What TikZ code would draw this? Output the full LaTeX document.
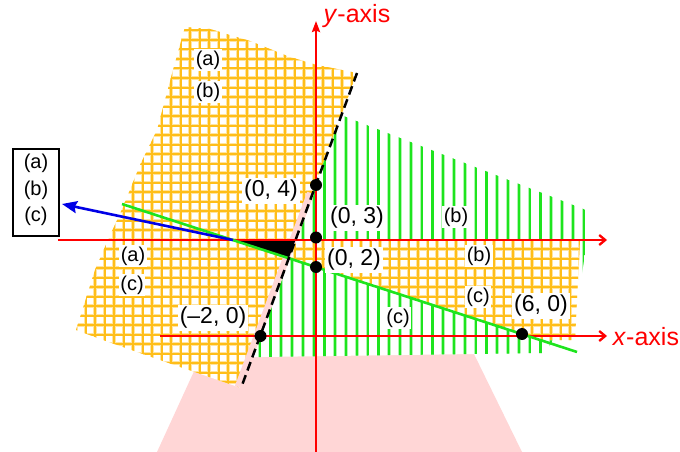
\documentclass[tikz,border=0pt]{standalone}
\usepackage{fontspec}
\setmainfont{Liberation Sans}
\usetikzlibrary{arrows.meta}
\definecolor{orgC}{RGB}{255,190,25}
\definecolor{orgL}{RGB}{255,228,160}
\definecolor{grnC}{RGB}{30,228,30}
\definecolor{grnL}{RGB}{175,246,175}
\definecolor{redC}{RGB}{255,0,0}
\definecolor{bluC}{RGB}{0,0,230}
\definecolor{pnkC}{RGB}{255,214,214}
\def\orgLeftPath{(185,27) -- (210,29) -- (250,41) -- (290,57) -- (317,65) -- (357,73) -- (241,388) -- (160,360) -- (103,340) -- (76,330) -- (95,270) -- (108,240) -- (123,207) -- (140,165) -- (157,130) -- (165,100) -- (173,70) -- cycle}
\def\orgRightPath{(295.5,240) -- (580,240) -- (575,340) -- (540,340) -- (288.8,258.2) -- cycle}
\def\grnPath{(341,115) -- (586,210) -- (587,240) -- (578,300) -- (545,353) -- (262,357) -- (252.5,357) -- cycle}
\begin{document}
\begin{tikzpicture}[x=1pt,y=-1pt,
  lbl/.style={fill=white,inner sep=1.5pt,font=\fontsize{20}{20}\selectfont},
  big/.style={fill=white,inner sep=2pt,font=\fontsize{23}{23}\selectfont},
  axlbl/.style={text=redC,font=\fontsize{25}{25}\selectfont,inner sep=0pt,anchor=base},
  dotm/.style={circle,fill=black,inner sep=0pt,minimum size=12pt},
  redln/.style={draw=redC,line width=2.3pt},
  gridlight/.style={orgL,line width=3.4pt},
  gridcore/.style={orgC,line width=2pt},
  stripelight/.style={grnL,line width=3.6pt},
  stripecore/.style={grnC,line width=2.2pt}]
\useasboundingbox (0,0) rectangle (680,452);
% faded watermark
\fill[pnkC] (201,356) -- (473,352) -- (522,452) -- (157,452) -- cycle;
% left orange grid region
\fill[white] \orgLeftPath;
\begin{scope}
\clip \orgLeftPath;
\foreach \x in {57,66.5,...,380} {\draw[gridlight] (\x,0) -- (\x,452);}
\foreach \y in {21,30.5,...,400} {\draw[gridlight] (0,\y) -- (680,\y);}
\foreach \x in {57,66.5,...,380} {\draw[gridcore] (\x,0) -- (\x,452);}
\foreach \y in {21,30.5,...,400} {\draw[gridcore] (0,\y) -- (680,\y);}
\end{scope}
% green striped region
\fill[white] \grnPath;
\begin{scope}
\clip \grnPath;
\foreach \x in {248.8,259.6,...,600} {\draw[stripelight] (\x,100) -- (\x,370);}
\foreach \x in {248.8,259.6,...,600} {\draw[stripecore] (\x,100) -- (\x,370);}
\end{scope}
% right orange band
\fill[white] \orgRightPath;
\begin{scope}
\clip \orgRightPath;
\foreach \x in {285,294.5,...,600} {\draw[gridlight] (\x,230) -- (\x,360);}
\foreach \y in {239.5,249,...,360} {\draw[gridlight] (280,\y) -- (600,\y);}
\foreach \x in {285,294.5,...,600} {\draw[gridcore] (\x,230) -- (\x,360);}
\foreach \y in {239.5,249,...,360} {\draw[gridcore] (280,\y) -- (600,\y);}
\end{scope}
% coordinates
\coordinate (dTop) at (357,73);
\coordinate (dBot) at (241,388);
\coordinate (gL) at (122,204);
\coordinate (gR) at (577,352);
\coordinate (tA) at (233,240);
\coordinate (tB) at (295.5,240);
\coordinate (tC) at (288.8,258.2);
\coordinate (bTip) at (62,204);
\coordinate (rL) at (58,240);
\coordinate (rR) at (607,240);
\coordinate (xL) at (160,336);
\coordinate (xR) at (607,336);
\coordinate (yB) at (316,452);
\coordinate (yT) at (316,21);
\coordinate (pk1) at (310.6,193);
\coordinate (pk2) at (238.2,387);
% pink strip along boundary
\draw[pnkC,line width=7pt] (pk1) -- (pk2);
% black region
\fill[black] (tA) -- (tB) -- (tC) -- cycle;
% axes and lines
\draw[redln,-{Straight Barb[length=6pt,width=10pt]}] (rL) -- (rR);
\draw[redln,-{Straight Barb[length=6pt,width=10pt]}] (xL) -- (xR);
\draw[redln,-{Stealth[length=11pt,width=8pt,inset=1.5pt]}] (yB) -- (yT);
\draw[grnC,line width=2.6pt] (gL) -- (gR);
\draw[bluC,line width=2.6pt,-{Stealth[length=15pt,width=12pt,inset=2pt]}] (tA) -- (bTip);
\draw[black,line width=2.5pt,dash pattern=on 9pt off 5pt] (dTop) -- (dBot);
% axis labels
\node[axlbl] (ylab) at (357,23) {\textit{y}-axis};
\node[axlbl] (xlab) at (646,345) {\textit{x}-axis};
% points
\node[dotm] (p04) at (316,185) {};
\node[dotm] (p03) at (316,237.5) {};
\node[dotm] (p02) at (316,267) {};
\node[dotm] (pm20) at (260.5,336) {};
\node[dotm] (p60) at (522,334) {};
\node[big] (l04) at (271,191) {(0, 4)};
\node[big] (l03) at (357,218) {(0, 3)};
\node[big] (l02) at (354,260) {(0, 2)};
\node[big] (lm20) at (213,318) {(–2, 0)};
\node[big] (l60) at (541,306) {(6, 0)};
% region labels
\node[lbl] (a1) at (208,60) {(a)};
\node[lbl] (b1) at (208,92) {(b)};
\node[lbl] (a2) at (133,256) {(a)};
\node[lbl] (c2) at (132,285) {(c)};
\node[lbl] (b3) at (456,217) {(b)};
\node[lbl] (b4) at (479,256) {(b)};
\node[lbl] (c4) at (478,297) {(c)};
\node[lbl] (c5) at (398,318) {(c)};
% legend box
\draw[black,line width=1.2pt] (13,149) rectangle (59,236);
\node[lbl,fill=none] (ka) at (36,163) {(a)};
\node[lbl,fill=none] (kb) at (36,190) {(b)};
\node[lbl,fill=none] (kc) at (36,216) {(c)};
\end{tikzpicture}
\end{document}
